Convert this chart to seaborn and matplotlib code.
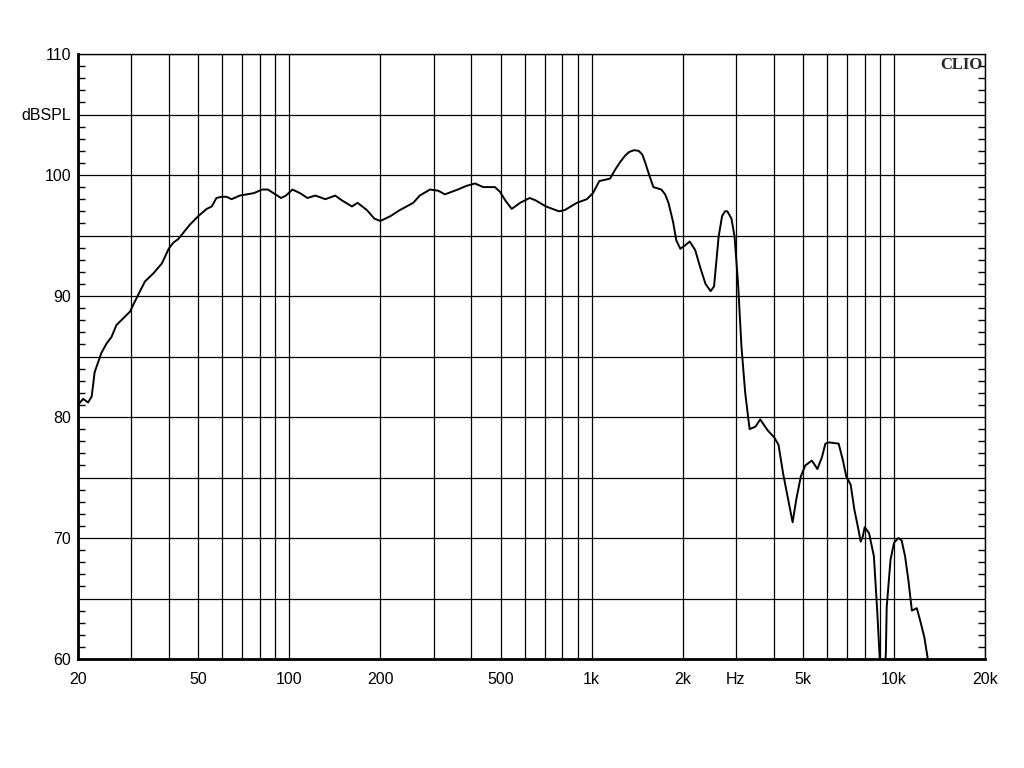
import numpy as np
import pandas as pd
import matplotlib
matplotlib.use("Agg")
import matplotlib.pyplot as plt
import seaborn as sns
from matplotlib.ticker import FixedLocator, NullFormatter

# Frequency response data (Hz, dB SPL)
freq_hz = [
    20, 20.8, 21.6, 22.2, 22.7, 23.9, 24.9, 25.8, 26.8, 28.6, 29.7, 31.2, 33.3, 35.6,
    37.9, 39.9, 41.3, 42.9, 46.9, 50, 53.3, 55.4, 57.4, 59.8, 62, 64.4, 68.6, 72.3,
    76.3, 81.4, 85, 88.6, 93.9, 97.5, 102.4, 108.5, 114.8, 122, 131.6, 141.9, 149.3,
    161.1, 168.2, 180.6, 191, 200, 216, 232, 257, 270, 292, 311, 327, 361, 385, 411,
    438, 479, 498, 518, 544, 580, 624, 653, 706, 780, 815, 893, 964, 1010, 1060,
    1150, 1200, 1245, 1290, 1330, 1380, 1430, 1470, 1505, 1550, 1600, 1700, 1750,
    1795, 1860, 1905, 1965, 2040, 2110, 2200, 2290, 2380, 2475, 2540, 2630, 2700,
    2760, 2810, 2900, 2970, 3050, 3130, 3220, 3330, 3480, 3610, 3820, 4020, 4150,
    4300, 4450, 4620, 4760, 4920, 5090, 5350, 5580, 5780, 5930, 6100, 6560, 6780,
    6950, 7190, 7400, 7600, 7760, 7880, 8000, 8270, 8580, 8800, 8950, 9100, 9250,
    9400, 9460, 9740, 10000, 10340, 10600, 10880, 11160, 11460, 11900, 12200,
    12600, 12900, 13300,
]
spl_db = [
    81.0, 81.5, 81.2, 81.7, 83.7, 85.3, 86.1, 86.6, 87.6, 88.3, 88.7, 89.8, 91.2, 91.9,
    92.7, 93.9, 94.4, 94.7, 95.9, 96.6, 97.2, 97.4, 98.1, 98.2, 98.2, 98.0, 98.3, 98.4,
    98.5, 98.8, 98.8, 98.5, 98.1, 98.3, 98.8, 98.5, 98.1, 98.3, 98.0, 98.3, 97.9,
    97.4, 97.7, 97.1, 96.4, 96.2, 96.6, 97.1, 97.7, 98.3, 98.8, 98.7, 98.4, 98.8, 99.1, 99.3,
    99.0, 99.0, 98.6, 97.9, 97.2, 97.7, 98.1, 97.9, 97.4, 97.0, 97.1, 97.7, 98.0, 98.5, 99.5,
    99.7, 100.5, 101.1, 101.6, 101.9, 102.05, 102.0, 101.7, 101.0, 100.0, 99.0, 98.8, 98.4,
    97.7, 96.1, 94.6, 93.9, 94.2, 94.5, 93.8, 92.3, 91.0, 90.4, 90.8, 94.9, 96.6,
    97.0, 97.0, 96.4, 94.9, 91.0, 85.8, 82.0, 79.0, 79.2, 79.8, 78.9, 78.3, 77.7,
    75.3, 73.4, 71.3, 73.3, 75.1, 76.0, 76.4, 75.7, 76.7, 77.8, 77.9, 77.8, 76.4,
    75.1, 74.4, 72.3, 70.9, 69.7, 70.1, 70.9, 70.4, 68.5, 64.0, 60.5, 57.5, 57.5,
    60.5, 64.3, 68.2, 69.6, 70.0, 69.8, 68.5, 66.5, 64.0, 64.2, 63.2,
    61.8, 60.2, 58.5,
]

x_grid = [20, 30, 40, 50, 60, 70, 80, 90, 100, 200, 300, 400, 500, 600, 700, 800, 900,
          1000, 2000, 3000, 4000, 5000, 6000, 7000, 8000, 9000, 10000, 20000]
x_label_map = {20: "20", 50: "50", 100: "100", 200: "200", 500: "500", 1000: "1k",
               2000: "2k", 3000: "Hz", 5000: "5k", 10000: "10k", 20000: "20k"}
y_grid = [60, 65, 70, 75, 80, 85, 90, 95, 100, 105, 110]
y_label_map = {60: "60", 70: "70", 80: "80", 90: "90", 100: "100", 105: "dBSPL", 110: "110"}

df = pd.DataFrame({"freq": freq_hz, "spl": spl_db})

sns.set_style("white")
plt.rcParams["font.family"] = ["Liberation Sans", "DejaVu Sans"]

fig = plt.figure(figsize=(10.24, 7.68), dpi=100)
ax = fig.add_axes([78 / 1024, 1 - 659 / 768, (985 - 78) / 1024, (659 - 54) / 768])

sns.lineplot(data=df, x="freq", y="spl", ax=ax, color="black", linewidth=1.4,
             estimator=None, sort=False)

ax.set_xscale("log")
ax.set_xlim(20, 20000)
ax.set_ylim(60, 110)

ax.xaxis.set_major_locator(FixedLocator(x_grid))
ax.xaxis.set_minor_formatter(NullFormatter())
ax.xaxis.set_minor_locator(FixedLocator([]))
ax.set_xticklabels([x_label_map.get(v, "") for v in x_grid])

ax.yaxis.set_major_locator(FixedLocator(y_grid))
ax.set_yticklabels([y_label_map.get(v, "") for v in y_grid])
ax.yaxis.set_minor_locator(FixedLocator(list(range(60, 111))))

ax.grid(True, which="major", color="black", linewidth=0.9)
ax.set_axisbelow(True)

ax.tick_params(axis="x", which="both", length=0, pad=9, labelsize=11.5, colors="black")
ax.tick_params(axis="y", which="major", length=0, pad=5, labelsize=11.5, colors="black")
ax.tick_params(axis="y", which="minor", direction="in", length=5, width=1,
               left=True, right=True, color="black")

for side in ["left", "bottom"]:
    ax.spines[side].set_linewidth(2)
for side in ["top", "right"]:
    ax.spines[side].set_linewidth(1)
for s in ax.spines.values():
    s.set_color("black")
    s.set_visible(True)

ax.set_xlabel("")
ax.set_ylabel("")

ax.text(0.997, 0.995, "CLIO", transform=ax.transAxes, ha="right", va="top",
        fontsize=12, fontweight="bold", family=["Liberation Serif", "DejaVu Serif"])

fig.savefig("out.png", dpi=100, facecolor="white")
